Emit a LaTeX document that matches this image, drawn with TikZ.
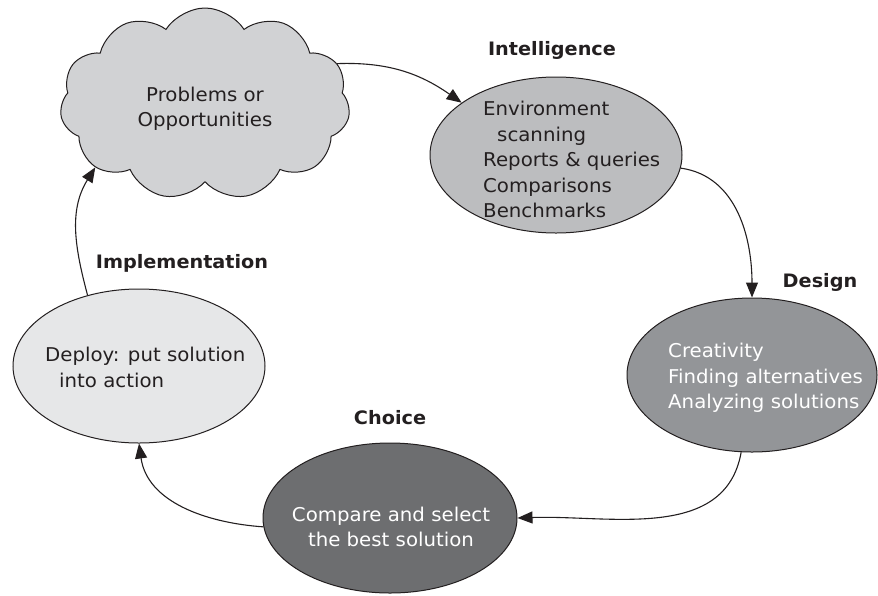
\documentclass[tikz,border=0pt]{standalone}
\usepackage{fontspec}
\setmainfont[FakeStretch=1.04]{DejaVu Sans}
\usetikzlibrary{shapes.geometric,shapes.symbols,arrows.meta}
\definecolor{cloudgray}{RGB}{209,210,212}
\definecolor{intelgray}{RGB}{188,189,191}
\definecolor{designgray}{RGB}{147,149,152}
\definecolor{choicegray}{RGB}{109,110,112}
\definecolor{implgray}{RGB}{230,231,232}
\definecolor{ink}{RGB}{35,31,32}
\begin{document}
\begin{tikzpicture}[x=1pt,y=-1pt,
  stage/.style={ellipse,draw=ink,line width=1pt,inner sep=0pt},
  body/.style={font=\fontsize{19}{25.5}\selectfont,align=left,inner sep=0pt,anchor=north west},
  phase/.style={font=\fontsize{18.5}{22}\selectfont\bfseries,text=ink,inner sep=0pt},
  flow/.style={draw=ink,line width=1.1pt,-{Triangle[length=15pt,width=12pt]}}]
\useasboundingbox (0,0) rectangle (878,595);
% cloud
\node[cloud,cloud puffs=11,cloud puff arc=115,aspect=1.5,draw=ink,line width=1pt,fill=cloudgray,
  minimum width=290pt,minimum height=192pt,inner sep=0pt] (cloud) at (205,104) {};
\node[font=\fontsize{19}{25.5}\selectfont,align=center,text=ink,inner sep=0pt] (cloudtxt) at (205,109) {Problems or\\Opportunities};
% stages
\node[stage,fill=intelgray,minimum width=252pt,minimum height=156pt] (intel) at (556,155) {};
\node[stage,fill=designgray,minimum width=250pt,minimum height=154pt] (design) at (752,375) {};
\node[stage,fill=choicegray,minimum width=254pt,minimum height=150pt] (choice) at (390,518) {};
\node[stage,fill=implgray,minimum width=252pt,minimum height=154pt] (impl) at (139,366) {};
% texts
\node[body,text=ink] (inteltxt) at (483,101) {Environment\\\hspace{14pt}scanning\\Reports \& queries\\Comparisons\\Benchmarks};
\node[body,text=white] (designtxt) at (668,343) {Creativity\\Finding alternatives\\Analyzing solutions};
\node[body,text=white,align=center,anchor=center] (choicetxt) at (391,527) {Compare and select\\the best solution};
\node[body,text=ink] (impltxt) at (45,347) {Deploy: put solution\\\hspace{14pt}into action};
% phase labels
\node[phase] (lintel) at (552,50) {Intelligence};
\node[phase] (ldesign) at (820,282) {Design};
\node[phase] (lchoice) at (390,418) {Choice};
\node[phase] (limpl) at (182,263) {Implementation};
% connectors
\draw[flow] (cloud.17) to[out=2,in=145] (intel.151);
\draw[flow] (intel.-6) to[out=-8,in=90] (design.north);
\draw[flow] (design.262) to[out=-100,in=2] (choice.east);
\draw[flow] (choice.184) to[out=176,in=-82] (impl.south);
\draw[flow] (impl.126) to[out=105,in=-122] (cloud.210);
\end{tikzpicture}
\end{document}
